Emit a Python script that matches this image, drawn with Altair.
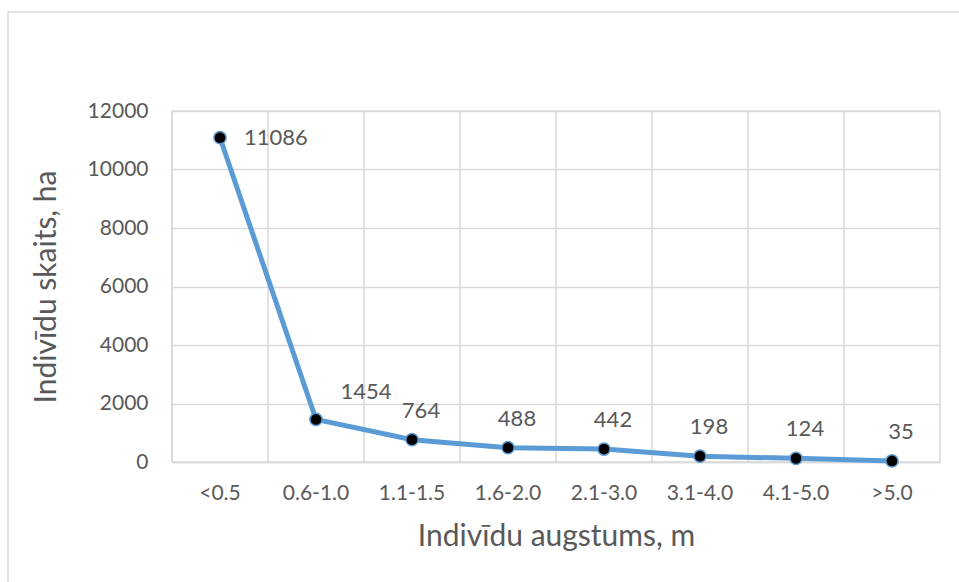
import altair as alt
import pandas as pd

categories = ["<0.5", "0.6-1.0", "1.1-1.5", "1.6-2.0", "2.1-3.0", "3.1-4.0", "4.1-5.0", ">5.0"]
values = [11086, 1454, 764, 488, 442, 198, 124, 35]
y_ticks = [0, 2000, 4000, 6000, 8000, 10000, 12000]

df = pd.DataFrame({"cat": categories, "val": values, "idx": list(range(len(values)))})

FONT = "Lato"
GREY = "#595959"
GRID = "#d9d9d9"
BLUE = "#5b9bd5"

xscale = alt.Scale(type="band", domain=categories, paddingInner=0, paddingOuter=0)
yscale = alt.Scale(domain=[0, 12000], nice=False)

base = alt.Chart(df)

x_axis = alt.Axis(title="Indivīdu augstums, m", labelAngle=0, grid=False,
                  ticks=False, domain=True, domainColor=GRID, domainWidth=1.5,
                  labelFont=FONT, labelFontSize=21, labelColor=GREY,
                  labelPadding=20, titleFont=FONT, titleFontSize=30,
                  titleFontWeight="normal", titleColor=GREY, titlePadding=18)
y_axis = alt.Axis(title="Indivīdu skaits, ha", values=y_ticks, format="d", grid=True,
                  gridColor=GRID, gridWidth=1.5, ticks=False, domain=False,
                  labelFont=FONT, labelFontSize=21, labelColor=GREY,
                  labelPadding=24, titleFont=FONT, titleFontSize=30,
                  titleFontWeight="normal", titleColor=GREY, titlePadding=26)

X = lambda **kw: alt.X("cat:N", scale=xscale, sort=categories, axis=x_axis, **kw)
Y = lambda: alt.Y("val:Q", scale=yscale, axis=y_axis)

vrules = base.mark_rule(color=GRID, strokeWidth=1.5).encode(
    x=X(bandPosition=0),
    y=alt.value(0), y2=alt.value(351)
)

line = base.mark_line(color=BLUE, strokeWidth=5).encode(x=X(), y=Y())

pts = base.mark_point(shape="circle", filled=False, fill="black", fillOpacity=1,
                      stroke=BLUE, strokeWidth=1.5, size=150, opacity=1).encode(
    x=X(), y=Y()
)

txt_common = dict(font=FONT, fontSize=22, color=GREY)
lab0 = base.transform_filter("datum.idx == 0").mark_text(
    align="left", baseline="middle", dx=24, dy=0, **txt_common).encode(
    x=X(), y=Y(), text="val:Q")
lab1 = base.transform_filter("datum.idx == 1").mark_text(
    align="center", baseline="middle", dx=50, dy=-27, **txt_common).encode(
    x=X(), y=Y(), text="val:Q")
labr = base.transform_filter("datum.idx >= 2").mark_text(
    align="center", baseline="middle", dx=9, dy=-29, **txt_common).encode(
    x=X(), y=Y(), text="val:Q")

frame = base.transform_filter("datum.idx == 0").mark_rect(
    fill=None, stroke=GRID, strokeWidth=1.5).encode(
    x=alt.value(-164), x2=alt.value(800), y=alt.value(-99), y2=alt.value(490))

chart = alt.layer(frame, vrules, line, pts, lab0, lab1, labr).properties(
    width=768, height=351,
    autosize=alt.AutoSizeParams(type="none"),
    padding={"left": 172, "top": 111, "right": 19, "bottom": 120},
    background="white"
).configure_view(stroke=GRID, strokeWidth=1.5)

chart.save("out.html", embed_options={"renderer": "svg", "actions": False})
